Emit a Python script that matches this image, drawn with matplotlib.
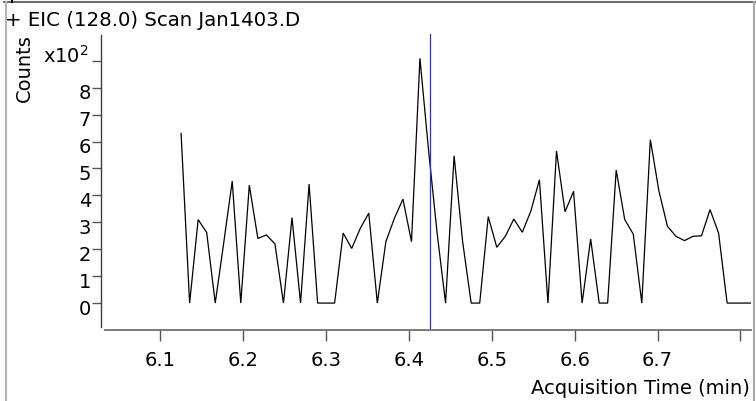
import matplotlib
matplotlib.use('Agg')
import matplotlib.pyplot as plt
from matplotlib.lines import Line2D
from matplotlib.transforms import ScaledTranslation

# ---- data -------------------------------------------------------------
times = [6.1253, 6.1356, 6.1459, 6.1562, 6.1665, 6.1768, 6.1870, 6.1973,
         6.2076, 6.2179, 6.2282, 6.2385, 6.2488, 6.2591, 6.2694, 6.2797,
         6.2900, 6.3002, 6.3105, 6.3208, 6.3311, 6.3414, 6.3517, 6.3620,
         6.3723, 6.3826, 6.3929, 6.4032, 6.4134, 6.4237, 6.4340, 6.4443,
         6.4546, 6.4649, 6.4752, 6.4855, 6.4958, 6.5061, 6.5164, 6.5266,
         6.5369, 6.5472, 6.5575, 6.5678, 6.5781, 6.5884, 6.5987, 6.6090,
         6.6193, 6.6296, 6.6398, 6.6501, 6.6604, 6.6707, 6.6810, 6.6913,
         6.7016, 6.7119, 6.7222, 6.7325, 6.7428, 6.7530, 6.7633, 6.7736,
         6.7839, 6.7942, 6.8045, 6.8148]
counts = [630, 0, 310, 262, 0, 225, 453, 0, 438, 240, 253, 220, 0, 317, 0, 442,
          0, 0, 0, 260, 203, 277, 334, 0, 228, 315, 386, 228, 909, 570, 263, 0,
          547, 228, 0, 0, 321, 207, 248, 312, 263, 342, 458, 0, 565, 339, 415, 0,
          238, 0, 0, 494, 310, 256, 0, 607, 417, 285, 248, 232, 248, 250, 347, 260,
          0, 0, 0, 0]
scale = 100
cursor_time = 6.4254

x_ticks = [6.1, 6.2, 6.3, 6.4, 6.5, 6.6, 6.7, 6.8]
x_tick_labels = ['6.1', '6.2', '6.3', '6.4', '6.5', '6.6', '6.7', '']
y_ticks = [0, 1, 2, 3, 4, 5, 6, 7, 8, 9]
y_tick_labels = ['0', '1', '2', '3', '4', '5', '6', '7', '8', '']

title = '+ EIC (128.0) Scan Jan1403.D'
x_label = 'Acquisition Time (min)'
y_label = 'Counts'
multiplier_label = 'x10$^{2}$'

# ---- figure -----------------------------------------------------------
W, H = 756, 402
fig = plt.figure(figsize=(W / 100, H / 100), dpi=100)
ax_left, ax_right, ax_top, ax_bottom = 104.8, 751.0, 34.8, 331.0
ax = fig.add_axes([ax_left / W, 1 - ax_bottom / H,
                   (ax_right - ax_left) / W, (ax_bottom - ax_top) / H])

yvals = [c / scale for c in counts]
ax.plot(times, yvals, color='black', lw=0.9, solid_joinstyle='miter')
ax.axvline(cursor_time, color='#3434a8', lw=0.9)

ax.set_xlim(6.0333, 6.8127)
ax.set_ylim(-1.0, 10.0)

for s in ('top', 'right'):
    ax.spines[s].set_visible(False)
ax.spines['left'].set_position(('outward', 2.5))
ax.spines['left'].set_bounds(-0.89, 9.96)
ax.spines['left'].set_color('#404040')
ax.spines['left'].set_linewidth(1.0)
ax.spines['bottom'].set_color('#7a7a7a')
ax.spines['bottom'].set_linewidth(1.4)

ax.set_xticks(x_ticks)
ax.set_xticklabels(x_tick_labels)
ax.set_yticks(y_ticks)
ax.set_yticklabels(y_tick_labels)
ax.tick_params(axis='x', direction='out', length=8, width=1, color='#555555',
               pad=6.5, labelsize=14)
ax.tick_params(axis='y', direction='out', length=6.5, width=1, color='#555555',
               pad=0.8, labelsize=14)
off = ScaledTranslation(0, -3 / 100, fig.dpi_scale_trans)
for lbl in ax.yaxis.get_majorticklabels():
    lbl.set_transform(lbl.get_transform() + off)

ax.set_xlabel(x_label, fontsize=14, ha='right', va='baseline')
ax.xaxis.set_label_coords((750 - ax_left) / (ax_right - ax_left),
                          -(394.5 - ax_bottom) / (ax_bottom - ax_top))
ax.set_ylabel(y_label, fontsize=14, rotation=90, ha='center', va='center')
ax.yaxis.set_label_coords((24 - ax_left) / (ax_right - ax_left),
                          (ax_bottom - 68.5) / (ax_bottom - ax_top))
ax.set_title(title, loc='left', fontsize=14.2, va='baseline', pad=0,
             x=(5 - ax_left) / (ax_right - ax_left),
             y=(ax_bottom - 26) / (ax_bottom - ax_top))
fig.text(89 / W, 1 - 63 / H, multiplier_label, fontsize=14, ha='right',
         va='baseline')

# ---- frame lines ------------------------------------------------------
def fline(x0, y0, x1, y1, **kw):
    fig.add_artist(Line2D([x0 / W, x1 / W], [1 - y0 / H, 1 - y1 / H],
                          transform=fig.transFigure, **kw))

fline(4, 2.5, 756, 2.5, color='#6e6e6e', lw=1.5)
fline(5.5, 2.5, 5.5, 402, color='#b4b4b4', lw=1.5)
fline(753.5, 2.5, 753.5, 402, color='#a8a8a8', lw=1.5)
fline(12, 0, 12, 2.5, color='black', lw=1.5)

fig.savefig('out.png', dpi=100)
